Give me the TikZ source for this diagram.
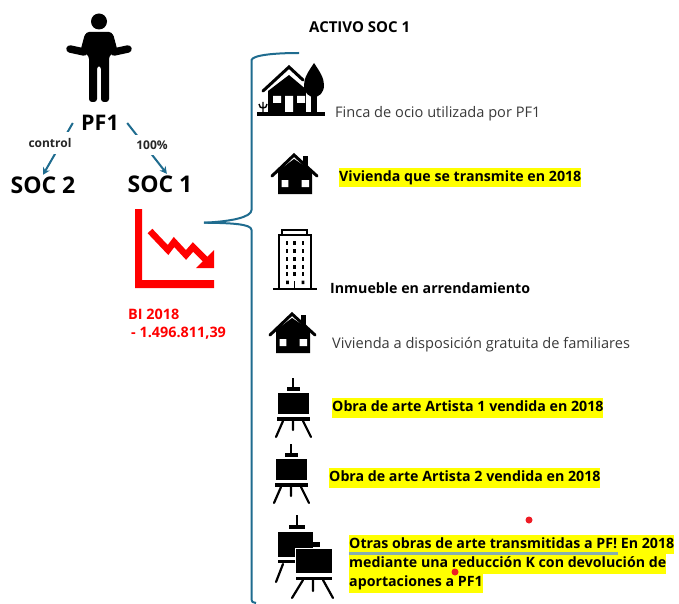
\documentclass[tikz,border=0pt]{standalone}
\usepackage{fontspec}
\setmainfont{Open Sans}
\usetikzlibrary{arrows.meta}
\definecolor{linkblue}{HTML}{1F6C8F}
\definecolor{hl}{HTML}{FFFF00}
\definecolor{soft}{HTML}{3A3A3A}
\definecolor{chartred}{HTML}{FF0000}
\definecolor{wave}{HTML}{86AEB0}
\definecolor{dotred}{HTML}{EE1C25}
\tikzset{
  x=1pt,y=-1pt,
  link/.style={draw=linkblue,line width=2pt},
  linkarrow/.style={link,-{Stealth[length=7pt,width=7.5pt]}},
  bracket/.style={draw=linkblue,line width=2pt},
  lbl/.style={anchor=west,inner sep=0pt,text height=10.5pt,text depth=3pt,font=\fontsize{14.6}{16}\selectfont,text=soft},
  boldlbl/.style={anchor=west,inner sep=0pt,text height=10.5pt,text depth=3pt,font=\fontsize{14.2}{16}\selectfont\bfseries,text=black},
  hllbl/.style={boldlbl,fill=hl,minimum height=19.5pt},
  headlbl/.style={inner sep=0pt,font=\fontsize{23}{25}\selectfont\bfseries,text=black},
  smalllbl/.style={inner xsep=2pt,inner ysep=6pt,fill=white,font=\fontsize{12}{14}\selectfont\bfseries,text=black!85},
  redlbl/.style={anchor=west,inner sep=0pt,font=\fontsize{14.4}{16}\selectfont\bfseries,text=chartred},
}
\newcommand{\plainhouse}[2]{\begin{scope}[shift={(#1,#2)}]
  \fill (9,156) rectangle (14,170);
  \fill (-16,171) -- (0,159) -- (18,171) -- (18,194) -- (-16,194) -- cycle;
  \draw[line width=3pt,line cap=round] (-22,176) -- (0,155) -- (23,176);
  \fill[white] (-12.3,180) rectangle (-5.7,187) (7.7,180) rectangle (15,187);
\end{scope}}
\newcommand{\easel}[2]{\begin{scope}[shift={(#1,#2)}]
  \draw[line width=2.4pt] (293,378) -- (293,389);
  \fill (287,387) rectangle (300,390.5);
  \fill (278,393) rectangle (309,414);
  \fill (277,417) rectangle (310,421);
  \draw[line width=2.2pt,line cap=round] (283,421) -- (276,437) (293,421) -- (293,430) (303,421) -- (311,437);
\end{scope}}
\begin{document}
\begin{tikzpicture}
\useasboundingbox (0,0) rectangle (679,604);
\fill[white] (0,0) rectangle (679,604);

% person
\fill (99,21.5) circle (8);
\fill[rounded corners=3pt] (86,32) -- (112,32) -- (117,50) -- (109,56) -- (109,102) -- (101,102) -- (101,66) -- (97,66) -- (97,102) -- (89,102) -- (89,56) -- (81,50) -- cycle;
\draw[line width=7.5pt,line cap=round,line join=round] (70,49) -- (84,52) -- (88,37) (128,49) -- (114,52) -- (110,37);

% top nodes
\node[headlbl,font=\fontsize{21.5}{23}\selectfont\bfseries,minimum width=54pt,minimum height=24pt] (pf1) at (100,123) {PF1};
\node[headlbl,minimum width=66pt,minimum height=20pt] (soc2) at (43,185) {SOC 2};
\node[headlbl,minimum width=64pt,minimum height=20pt] (soc1) at (160,184) {SOC 1};
\draw[linkarrow] (pf1.west) -- (soc2.north);
\draw[linkarrow] (pf1.east) -- (soc1.56);
\node[smalllbl] (ctl) at (50,143) {control};
\node[smalllbl] (pct) at (152,145) {100\%};

% chart
\fill[chartred] (135,209) -- (142,209) -- (142,280) -- (214,280) -- (214,288) -- (135,288) -- cycle;
\draw[chartred,line width=6.5pt,line join=miter] (150,231) -- (168,250) -- (174,242) -- (186,255) -- (193,247) -- (207,261);
\fill[chartred] (214,250) -- (214,268) -- (196,268) -- cycle;
\node[redlbl] (bi) at (128,314) {BI 2018};
\node[redlbl] (val) at (131,333) {- 1.496.811,39};

% title and bracket
\node[boldlbl,font=\fontsize{15}{17}\selectfont\bfseries] (title) at (309,29) {ACTIVO SOC 1};
\coordinate (bracetop) at (299,53);
\coordinate (bracetip) at (204,222.7);
\coordinate (braceend) at (256,603);
\draw[bracket] (bracetop) .. controls (275,53) and (253,55) .. (251.5,60) -- (251.5,210) .. controls (251.5,217) and (232,221.5) .. (bracetip);
\draw[bracket] (bracetip) .. controls (232,223) and (251.5,224) .. (251.5,230) -- (251.5,598) .. controls (251.5,602) and (253,603) .. (braceend);

% finca icon
\fill (257,112) rectangle (325,116.5);
\fill (268,112) -- (268,91) -- (289,75) -- (308,91) -- (308,112) -- cycle;
\draw[line width=3pt,line cap=round] (263,91) -- (289,67) -- (303,80);
\fill[white] (273,96) rectangle (281,103) (297,96) rectangle (305,103) (285,96) rectangle (293,112);
\fill[white] (306,85) rectangle (311,112);
\fill (314,63) .. controls (320,72) and (324,78) .. (324,85) .. controls (324,93) and (319,97) .. (314,97) .. controls (309,97) and (304,93) .. (304,85) .. controls (304,78) and (308,72) .. (314,63) -- cycle;
\fill (311,96) rectangle (316.5,112);
\draw[line width=1.4pt] (263,112) -- (263,102) (259,104) .. controls (259,107) and (261,108) .. (263,108) .. controls (265,108) and (267,107) .. (267,104);

% house icons
\plainhouse{294}{0}
\plainhouse{292}{159}

% building
\draw[line width=1.2pt,fill=white] (282,235) -- (282,230) -- (307,230) -- (307,235);
\draw[line width=1.2pt] (279,289) -- (279,235) -- (311,235) -- (311,289);
\draw[line width=1.5pt] (273,289) -- (317,289);
\foreach \wy in {243,251,259,267,274} \foreach \wx in {287,294.5,303} \fill (\wx-1.4,\wy-1.8) rectangle (\wx+1.4,\wy+1.8);
\fill (286,280.5) rectangle (288.8,284) (301.6,280.5) rectangle (304.4,284);
\draw[line width=1.4pt] (294.5,281) -- (294.5,289);

% easels
\easel{0}{0}
\easel{-2}{66}
\draw[line width=2.4pt] (297,515) -- (297,526);
\fill (289,525) rectangle (305,529);
\fill (278,532) rectangle (313,557);
\fill (278,560) rectangle (295,563);
\draw[line width=2.2pt,line cap=round] (283,564) -- (276,582);
\fill (313,542) rectangle (320,547);
\fill[draw=white,line width=1pt] (295,548) rectangle (332,573);
\fill[draw=white,line width=1pt] (295,576) rectangle (332,580);
\draw[line width=2.2pt,line cap=round] (303,580) -- (292,598) (313,580) -- (313,591) (323,580) -- (333,598);

% labels
\node[lbl] (finca) at (335,113.8) {Finca de ocio utilizada por PF1};
\node[hllbl] (viv) at (339,177.5) {Vivienda que se transmite en 2018};
\node[boldlbl] (inm) at (330,290) {Inmueble en arrendamiento};
\node[lbl] (gratis) at (332,345) {Vivienda a disposición gratuita de familiares};
\node[hllbl] (art1) at (332,408) {Obra de arte Artista 1 vendida en 2018};
\node[hllbl] (art2) at (329,478) {Obra de arte Artista 2 vendida en 2018};
\node[hllbl] (otras) at (349,544.5) {Otras obras de arte transmitidas a PF! En 2018};
\node[hllbl] (otras2) at (349,564) {mediante una  reducción K con devolución de};
\node[hllbl] (otras3) at (349,583) {aportaciones a PF1};
\fill[wave] (349,552) rectangle (618,554.5);

% red dots
\fill[dotred] (529,520) circle (3.5);
\fill[dotred] (455,572) circle (3.5);
\end{tikzpicture}
\end{document}
